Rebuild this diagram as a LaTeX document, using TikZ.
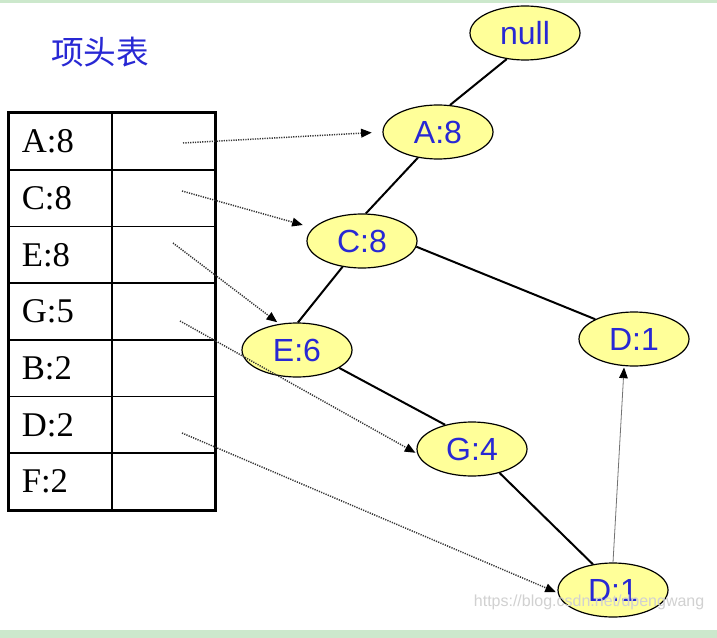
\documentclass[tikz,border=0pt]{standalone}
\usepackage{fontspec}
\usepackage{tikz}
\usetikzlibrary{shapes.geometric,arrows.meta}
\newfontfamily\timesfont{Liberation Serif}
\newfontfamily\arialfont{Liberation Sans}
\newfontfamily\cjkfont{Noto Sans CJK SC}
\definecolor{nodefill}{RGB}{255,255,153}
\definecolor{nodeblue}{RGB}{40,40,212}
\definecolor{bandgreen}{RGB}{204,232,204}
\tikzset{
	fpnode/.style={ellipse,draw,fill=nodefill,line width=0.9pt,minimum width=82.5pt,minimum height=40.5pt,inner sep=0pt,text=nodeblue,font=\arialfont\fontsize{24}{24}\selectfont},
	keycell/.style={draw,line width=1.2pt,minimum height=42.5pt,text width=58pt,inner xsep=9.6pt,inner ysep=0pt,align=left,font=\timesfont\fontsize{26}{26}\selectfont},
	ptrcell/.style={draw,line width=1.2pt,minimum height=42.5pt,minimum width=77.2pt,inner sep=0pt},
	treeedge/.style={line width=1.5pt},
	headptr/.style={dash pattern=on 0.9pt off 0.9pt,line width=1.1pt,black!80,-{Triangle[length=8pt,width=6.5pt,color=black]}},
	linkptr/.style={line width=0.6pt,black!55,-{Triangle[length=8pt,width=6.5pt,color=black]}}
}

\begin{document}
\begin{tikzpicture}[x=0.75pt,y=-0.75pt]
	\fill[white] (0,0) rectangle (717,638);
	\useasboundingbox (0,0) rectangle (717,638);
	\fill[bandgreen] (0,0) rectangle (717,3);
	\fill[bandgreen] (0,630) rectangle (717,638);
	
	\node[text=nodeblue,font=\cjkfont\fontsize{24.5}{24.5}\selectfont] (title) at (100,52) {项头表};
	
	% header table
	\foreach \lab [count=\i] in {A:8,C:8,E:8,G:5,B:2,D:2,F:2}
	{
		\node[keycell] (k\i) at (60.5,113+56.7*\i-28.35) {\lab};
		\node[ptrcell] (p\i) at (163.5,113+56.7*\i-28.35) {};
	}
	\draw[line width=2.2pt] (k1.north west) rectangle (p7.south east);
	
	\coordinate (cA) at (183,143);
	\coordinate (cC) at (182,191);
	\coordinate (cE) at (173,243);
	\coordinate (cG) at (180,321);
	\coordinate (cD) at (182,433);
	
	% FP tree
	\node[fpnode] (root) at (525,33) {null};
	\node[fpnode] (a8) at (438,132) {A:8};
	\node[fpnode] (c8) at (362,241) {C:8};
	\node[fpnode] (e6) at (297,350) {E:6};
	\node[fpnode] (d1r) at (634,339) {D:1};
	\node[fpnode] (g4) at (472,449) {G:4};
	\node[fpnode] (d1b) at (613,590) {D:1};
	
	\draw[treeedge] (root.235) -- (a8.66);
	\draw[treeedge] (a8.232) -- (c8.82);
	\draw[treeedge] (c8.233) -- (e6.88);
	\draw[treeedge] (c8.354) -- (d1r.153);
	\draw[treeedge] (e6.337) -- (g4.138);
	\draw[treeedge] (g4.319) -- (d1b.128);
	
	\draw[headptr,shorten >=8pt] (cA) -- (a8.west);
	\draw[headptr,shorten >=8pt] (cC) -- (c8.165);
	\draw[headptr,shorten >=2pt] (cE) -- (e6.124);
	\draw[headptr,shorten >=1.5pt] (cG) -- (g4.185);
	\draw[headptr,shorten >=1.5pt] (cD) -- (d1b.183);
	\draw[linkptr,shorten >=1pt] (d1b.north) -- (d1r.250);
	
	\node[text=black!18,font=\arialfont\fontsize{12}{12}\selectfont,anchor=east] (mark) at (709,602) {https://blog.csdn.net/dpengwang};
\end{tikzpicture}
\end{document}
